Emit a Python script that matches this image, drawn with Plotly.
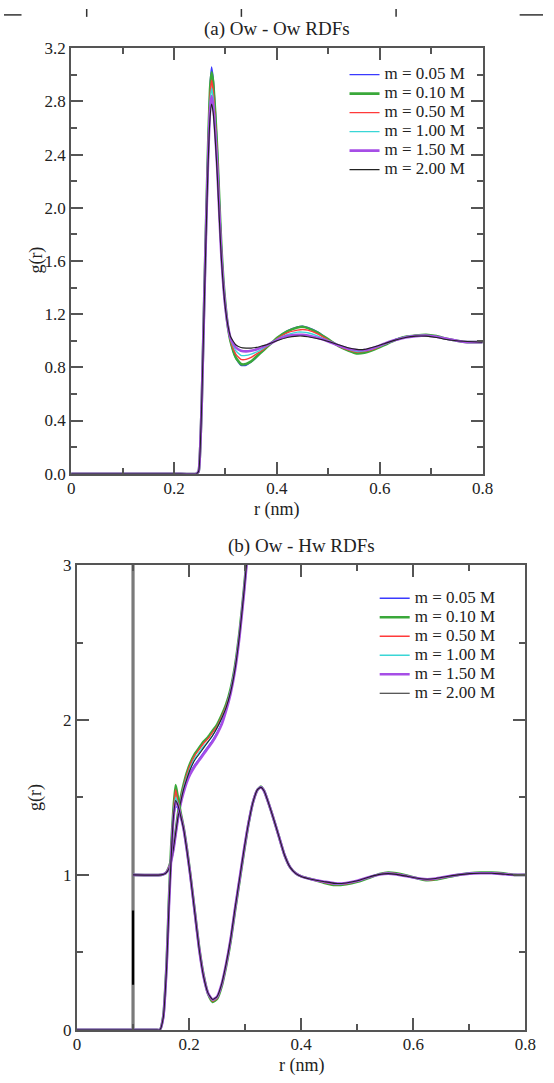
import plotly.graph_objects as go

W, H = 554, 1083

labels = ["m = 0.05 M", "m = 0.10 M", "m = 0.50 M", "m = 1.00 M", "m = 1.50 M", "m = 2.00 M"]
colors = ["#3a3aff", "#3aa83a", "#ff3a3a", "#3ad6d6", "#a64ee6", "#222222"]
widths = [1.4, 2.6, 1.4, 1.4, 2.6, 1.1]

# ---------------- panel (a): Ow - Ow ----------------
r_a = [0.000, 0.200, 0.244, 0.248, 0.251, 0.254, 0.258, 0.262, 0.266, 0.270, 0.273, 0.276, 0.280, 0.284,
       0.288, 0.292, 0.296, 0.300, 0.305, 0.310, 0.320, 0.330, 0.340, 0.350, 0.360, 0.370,
       0.380, 0.390, 0.400, 0.420, 0.440, 0.450, 0.460, 0.480, 0.500, 0.520, 0.540, 0.555,
       0.570, 0.590, 0.610, 0.630, 0.650, 0.670, 0.690, 0.710, 0.730, 0.750, 0.770, 0.800]
g_a_005 = [0, 0, 0, 0.02, 0.20, 0.55, 1.20, 1.85, 2.45, 2.92, 3.06, 2.98, 2.75, 2.46,
           2.08, 1.72, 1.45, 1.27, 1.10, 0.99, 0.87, 0.815, 0.815, 0.84, 0.875, 0.915,
           0.95, 0.985, 1.02, 1.075, 1.105, 1.11, 1.10, 1.065, 1.01, 0.96, 0.925, 0.91,
           0.915, 0.94, 0.975, 1.01, 1.03, 1.04, 1.04, 1.03, 1.015, 1.00, 0.99, 0.99]
g_a_010 = [0, 0, 0, 0.02, 0.20, 0.55, 1.20, 1.84, 2.43, 2.89, 3.02, 2.95, 2.72, 2.43,
           2.06, 1.71, 1.45, 1.27, 1.10, 0.995, 0.875, 0.825, 0.825, 0.845, 0.88, 0.915,
           0.95, 0.985, 1.02, 1.07, 1.10, 1.105, 1.095, 1.06, 1.01, 0.96, 0.925, 0.905,
           0.91, 0.935, 0.97, 1.005, 1.03, 1.04, 1.045, 1.035, 1.015, 1.00, 0.99, 0.99]
g_a_050 = [0, 0, 0, 0.02, 0.20, 0.55, 1.18, 1.82, 2.40, 2.84, 2.96, 2.89, 2.67, 2.39,
           2.03, 1.69, 1.44, 1.26, 1.10, 1.00, 0.90, 0.86, 0.86, 0.875, 0.90, 0.925,
           0.955, 0.985, 1.015, 1.06, 1.08, 1.085, 1.08, 1.05, 1.005, 0.96, 0.93, 0.915,
           0.92, 0.94, 0.975, 1.005, 1.03, 1.04, 1.04, 1.03, 1.015, 1.00, 0.99, 0.99]
g_a_100 = [0, 0, 0, 0.02, 0.20, 0.55, 1.17, 1.80, 2.37, 2.79, 2.90, 2.83, 2.62, 2.34,
           2.00, 1.67, 1.43, 1.25, 1.10, 1.01, 0.925, 0.89, 0.89, 0.90, 0.915, 0.935,
           0.96, 0.985, 1.01, 1.045, 1.065, 1.065, 1.06, 1.035, 1.00, 0.965, 0.935, 0.92,
           0.925, 0.945, 0.975, 1.005, 1.03, 1.04, 1.04, 1.03, 1.015, 1.00, 0.99, 0.99]
g_a_150 = [0, 0, 0, 0.02, 0.20, 0.55, 1.16, 1.78, 2.33, 2.73, 2.84, 2.77, 2.57, 2.30,
           1.96, 1.64, 1.41, 1.245, 1.105, 1.02, 0.95, 0.925, 0.92, 0.925, 0.935, 0.95,
           0.965, 0.985, 1.005, 1.035, 1.045, 1.045, 1.04, 1.02, 0.995, 0.965, 0.94, 0.93,
           0.93, 0.95, 0.98, 1.005, 1.025, 1.035, 1.04, 1.03, 1.015, 1.00, 0.99, 0.99]
g_a_200 = [0, 0, 0, 0.02, 0.20, 0.55, 1.15, 1.75, 2.30, 2.68, 2.78, 2.72, 2.52, 2.25,
           1.92, 1.62, 1.40, 1.24, 1.11, 1.03, 0.97, 0.95, 0.945, 0.945, 0.95, 0.96,
           0.97, 0.985, 1.00, 1.025, 1.035, 1.035, 1.03, 1.015, 0.995, 0.97, 0.945, 0.935,
           0.935, 0.955, 0.98, 1.005, 1.025, 1.035, 1.035, 1.025, 1.01, 1.00, 0.995, 0.99]

# ---------------- panel (b): Ow - Hw ----------------
r_b = [0.000, 0.140, 0.148, 0.154, 0.160, 0.164, 0.168, 0.172, 0.176, 0.180,
       0.185, 0.190, 0.196, 0.202, 0.210, 0.218, 0.226, 0.234, 0.242, 0.250,
       0.258, 0.266, 0.274, 0.282, 0.290, 0.298, 0.306, 0.314, 0.322, 0.328,
       0.334, 0.342, 0.350, 0.360, 0.370, 0.380, 0.390, 0.400, 0.420, 0.440,
       0.460, 0.480, 0.500, 0.520, 0.540, 0.555, 0.570, 0.590, 0.610, 0.625,
       0.640, 0.660, 0.680, 0.700, 0.720, 0.740, 0.760, 0.780, 0.800]
g_b_005 = [0, 0, 0.00, 0.08, 0.42, 0.80, 1.12, 1.35, 1.44, 1.43,
           1.37, 1.30, 1.16, 1.00, 0.76, 0.52, 0.34, 0.23, 0.19, 0.21,
           0.29, 0.42, 0.58, 0.78, 0.97, 1.16, 1.33, 1.47, 1.55, 1.57,
           1.54, 1.46, 1.37, 1.25, 1.13, 1.05, 1.01, 0.99, 0.97, 0.955,
           0.94, 0.945, 0.96, 0.985, 1.005, 1.01, 1.005, 0.99, 0.975, 0.97,
           0.975, 0.99, 1.00, 1.01, 1.01, 1.01, 1.005, 1.00, 1.00]
g_b_010 = [0, 0, 0.00, 0.09, 0.44, 0.84, 1.18, 1.42, 1.58, 1.50,
           1.40, 1.31, 1.17, 1.01, 0.77, 0.53, 0.35, 0.23, 0.18, 0.20,
           0.28, 0.41, 0.57, 0.77, 0.96, 1.15, 1.33, 1.47, 1.55, 1.57,
           1.54, 1.46, 1.37, 1.25, 1.13, 1.05, 1.01, 0.99, 0.97, 0.95,
           0.935, 0.94, 0.955, 0.98, 1.005, 1.015, 1.01, 0.995, 0.975, 0.965,
           0.97, 0.985, 1.00, 1.01, 1.015, 1.015, 1.01, 1.00, 1.00]
g_b_050 = [0, 0, 0.00, 0.09, 0.43, 0.83, 1.16, 1.40, 1.55, 1.47,
           1.39, 1.31, 1.17, 1.01, 0.77, 0.53, 0.35, 0.23, 0.185, 0.205,
           0.285, 0.415, 0.575, 0.775, 0.965, 1.155, 1.33, 1.47, 1.55, 1.57,
           1.54, 1.46, 1.37, 1.25, 1.13, 1.05, 1.01, 0.99, 0.97, 0.952,
           0.938, 0.942, 0.958, 0.982, 1.005, 1.012, 1.007, 0.992, 0.975, 0.968,
           0.972, 0.988, 1.00, 1.01, 1.012, 1.012, 1.007, 1.00, 1.00]
g_b_100 = [0, 0, 0.00, 0.08, 0.43, 0.82, 1.14, 1.38, 1.50, 1.46,
           1.38, 1.30, 1.16, 1.00, 0.76, 0.52, 0.34, 0.23, 0.19, 0.21,
           0.29, 0.42, 0.58, 0.78, 0.97, 1.16, 1.33, 1.47, 1.55, 1.57,
           1.54, 1.46, 1.37, 1.25, 1.13, 1.05, 1.01, 0.99, 0.97, 0.955,
           0.94, 0.945, 0.96, 0.985, 1.005, 1.01, 1.005, 0.99, 0.975, 0.97,
           0.975, 0.99, 1.00, 1.01, 1.01, 1.01, 1.005, 1.00, 1.00]
g_b_150 = [0, 0, 0.00, 0.08, 0.41, 0.79, 1.11, 1.36, 1.47, 1.45,
           1.38, 1.30, 1.16, 1.00, 0.76, 0.52, 0.34, 0.235, 0.195, 0.215,
           0.295, 0.425, 0.585, 0.785, 0.975, 1.165, 1.335, 1.47, 1.55, 1.565,
           1.54, 1.46, 1.37, 1.25, 1.13, 1.05, 1.01, 0.99, 0.97, 0.957,
           0.945, 0.948, 0.962, 0.985, 1.003, 1.008, 1.003, 0.99, 0.977, 0.972,
           0.977, 0.99, 1.00, 1.008, 1.01, 1.01, 1.005, 1.00, 1.00]
g_b_200 = [0, 0, 0.00, 0.08, 0.41, 0.79, 1.11, 1.37, 1.48, 1.45,
           1.38, 1.30, 1.16, 1.00, 0.76, 0.52, 0.34, 0.235, 0.195, 0.215,
           0.295, 0.425, 0.585, 0.785, 0.975, 1.165, 1.335, 1.47, 1.55, 1.565,
           1.54, 1.46, 1.37, 1.25, 1.13, 1.05, 1.01, 0.99, 0.97, 0.957,
           0.945, 0.948, 0.962, 0.985, 1.003, 1.008, 1.003, 0.99, 0.977, 0.972,
           0.977, 0.99, 1.00, 1.008, 1.01, 1.01, 1.005, 1.00, 1.00]

# upper (rising) curves in panel (b)
r_u = [0.100, 0.150, 0.158, 0.164, 0.168, 0.172, 0.176, 0.180, 0.185, 0.190,
       0.196, 0.202, 0.210, 0.218, 0.226, 0.234, 0.242, 0.250, 0.258, 0.266,
       0.274, 0.282, 0.290, 0.298, 0.306]
u_005 = [1.0, 1.0, 1.01, 1.04, 1.09, 1.16, 1.26, 1.36, 1.46, 1.54,
         1.61, 1.66, 1.71, 1.75, 1.79, 1.83, 1.87, 1.92, 1.98, 2.07,
         2.18, 2.33, 2.55, 2.83, 3.15]
u_010 = [1.0, 1.0, 1.01, 1.05, 1.10, 1.18, 1.28, 1.39, 1.50, 1.58,
         1.66, 1.72, 1.78, 1.82, 1.86, 1.89, 1.93, 1.97, 2.03, 2.10,
         2.20, 2.35, 2.57, 2.85, 3.17]
u_050 = [1.0, 1.0, 1.01, 1.05, 1.10, 1.17, 1.27, 1.38, 1.49, 1.57,
         1.65, 1.71, 1.77, 1.81, 1.85, 1.88, 1.92, 1.96, 2.02, 2.09,
         2.19, 2.34, 2.56, 2.84, 3.16]
u_100 = [1.0, 1.0, 1.01, 1.04, 1.09, 1.17, 1.27, 1.37, 1.48, 1.56,
         1.63, 1.69, 1.75, 1.79, 1.83, 1.86, 1.90, 1.95, 2.01, 2.08,
         2.19, 2.34, 2.56, 2.84, 3.16]
u_150 = [1.0, 1.0, 1.01, 1.04, 1.09, 1.16, 1.26, 1.36, 1.46, 1.53,
         1.60, 1.65, 1.70, 1.74, 1.78, 1.82, 1.86, 1.91, 1.97, 2.06,
         2.17, 2.32, 2.54, 2.82, 3.14]
u_200 = [1.0, 1.0, 1.01, 1.04, 1.09, 1.17, 1.27, 1.37, 1.47, 1.55,
         1.62, 1.68, 1.74, 1.78, 1.82, 1.86, 1.90, 1.95, 2.01, 2.08,
         2.18, 2.33, 2.55, 2.83, 3.15]

# vertical artefact line at r = 0.1 nm in panel (b)
r_v = [0.1, 0.1]
g_v = [0.0, 3.0]
g_v_dark = [0.29, 0.77]

x_ticks = [0, 0.2, 0.4, 0.6, 0.8]
x_ticktext = ["0", "0.2", "0.4", "0.6", "0.8"]
ya_ticks = [0.0, 0.4, 0.8, 1.2, 1.6, 2.0, 2.4, 2.8, 3.2]
yb_ticks = [0, 1, 2, 3]

series_a = [g_a_005, g_a_010, g_a_050, g_a_100, g_a_150, g_a_200]
series_b = [g_b_005, g_b_010, g_b_050, g_b_100, g_b_150, g_b_200]
series_u = [u_005, u_010, u_050, u_100, u_150, u_200]

FONT = "Liberation Serif"
AX = "#555555"
TXT = "#222222"
SMOOTH = 0.5
LEG_TXT = 17


def leg_name(t):
    return "<span style='font-size:%dpx'>%s</span>" % (LEG_TXT, t)


fig = go.Figure()

for lab, col, wd, g in zip(labels, colors, widths, series_a):
    fig.add_trace(go.Scatter(x=r_a, y=g, mode="lines", name=leg_name(lab), xaxis="x", yaxis="y",
                             line=dict(color=col, width=wd, shape="spline", smoothing=SMOOTH),
                             legend="legend"))

fig.add_trace(go.Scatter(x=r_v, y=g_v, mode="lines", xaxis="x2", yaxis="y2", showlegend=False,
                         line=dict(color="#7a7a7a", width=3.2)))
fig.add_trace(go.Scatter(x=r_v, y=g_v_dark, mode="lines", xaxis="x2", yaxis="y2", showlegend=False,
                         line=dict(color="#000000", width=2.2)))

for lab, col, wd, g in zip(labels, colors, widths, series_u):
    fig.add_trace(go.Scatter(x=r_u, y=g, mode="lines", xaxis="x2", yaxis="y2", showlegend=False,
                             line=dict(color=col, width=wd, shape="spline", smoothing=SMOOTH)))

for lab, col, wd, g in zip(labels, colors, widths, series_b):
    fig.add_trace(go.Scatter(x=r_b, y=g, mode="lines", name=leg_name(lab), xaxis="x2", yaxis="y2",
                             line=dict(color=col, width=wd, shape="spline", smoothing=SMOOTH),
                             legend="legend2"))


def px_x(v):
    return v / W


def px_y(v):
    return 1 - v / H


def axis(domain, rng, anchor, tickvals, ticktext, minor_dtick, fmt=None, standoff=0):
    d = dict(domain=domain, range=rng, anchor=anchor, showgrid=False, zeroline=False,
             showline=True, linecolor=AX, linewidth=2, mirror="allticks",
             layer="above traces",
             ticks="inside", ticklen=12, tickwidth=1.6, tickcolor=AX,
             tickvals=tickvals, tickfont=dict(family=FONT, size=17, color=TXT),
             ticklabelstandoff=standoff,
             minor=dict(ticks="inside", ticklen=6, tickwidth=1.6, tickcolor=AX,
                        dtick=minor_dtick, showgrid=False),
             fixedrange=True)
    if ticktext is not None:
        d["ticktext"] = ticktext
    if fmt is not None:
        d["tickformat"] = fmt
    return d


ax_a_left, ax_a_right, ax_a_top, ax_a_bot = 69, 492, 40, 473
ax_b_left, ax_b_right, ax_b_top, ax_b_bot = 75, 536, 566, 1039

fig.update_layout(
    width=W, height=H, autosize=False,
    margin=dict(l=0, r=0, t=0, b=0),
    paper_bgcolor="white", plot_bgcolor="white",
    font=dict(family=FONT, color=TXT),
    xaxis=axis([px_x(ax_a_left), px_x(ax_a_right)], [0, 0.8], "y", x_ticks, x_ticktext, 0.1,
               standoff=-2),
    yaxis=axis([px_y(ax_a_bot), px_y(ax_a_top)], [0, 3.2], "x", ya_ticks, None, 0.2, ".1f"),
    xaxis2=axis([px_x(ax_b_left), px_x(ax_b_right)], [0, 0.8], "y2", x_ticks, x_ticktext, 0.1,
                standoff=-2),
    yaxis2=axis([px_y(ax_b_bot), px_y(ax_b_top)], [0, 3], "x2", yb_ticks, None, 0.5),
    legend=dict(x=px_x(350), y=px_y(52), xanchor="left", yanchor="top",
                bgcolor="rgba(0,0,0,0)", borderwidth=0,
                font=dict(family=FONT, size=12, color=TXT), itemwidth=30),
    legend2=dict(x=px_x(381), y=px_y(585), xanchor="left", yanchor="top",
                 bgcolor="rgba(0,0,0,0)", borderwidth=0,
                 font=dict(family=FONT, size=12, color=TXT), itemwidth=30),
    showlegend=True,
)

annots = [
    ("(a) Ow - Ow RDFs", (ax_a_left + ax_a_right) / 2, 20, 0, 19),
    ("r (nm)", (ax_a_left + ax_a_right) / 2, 509, 0, 18),
    ("g(r)", 33, 256, -90, 18),
    ("(b) Ow - Hw RDFs", (ax_b_left + ax_b_right) / 2, 547, 0, 19),
    ("r (nm)", (ax_b_left + ax_b_right) / 2, 1075, 0, 18),
    ("g(r)", 33, 803, -90, 18),
]
for text, xx, yy, ang, fs in annots:
    fig.add_annotation(text=text, x=px_x(xx), y=px_y(yy), xref="paper", yref="paper",
                       showarrow=False, textangle=ang, xanchor="center", yanchor="middle",
                       font=dict(family=FONT, size=fs, color=TXT))

# cropped remnants of the previous figure at the very top edge
top_marks = [(0, 6, 18, 6), (530, 6, 554, 6), (85, 0, 85, 8), (244, 0, 244, 8), (403, 0, 403, 8)]
for x0, y0, x1, y1 in top_marks:
    fig.add_shape(type="line", xref="paper", yref="paper",
                  x0=px_x(x0), y0=px_y(y0), x1=px_x(x1), y1=px_y(y1),
                  line=dict(color="#333333", width=1.5))

fig.write_html("out.html", config={"displayModeBar": False},
               post_script="document.body.style.margin='0px';document.body.style.overflow='hidden';")
